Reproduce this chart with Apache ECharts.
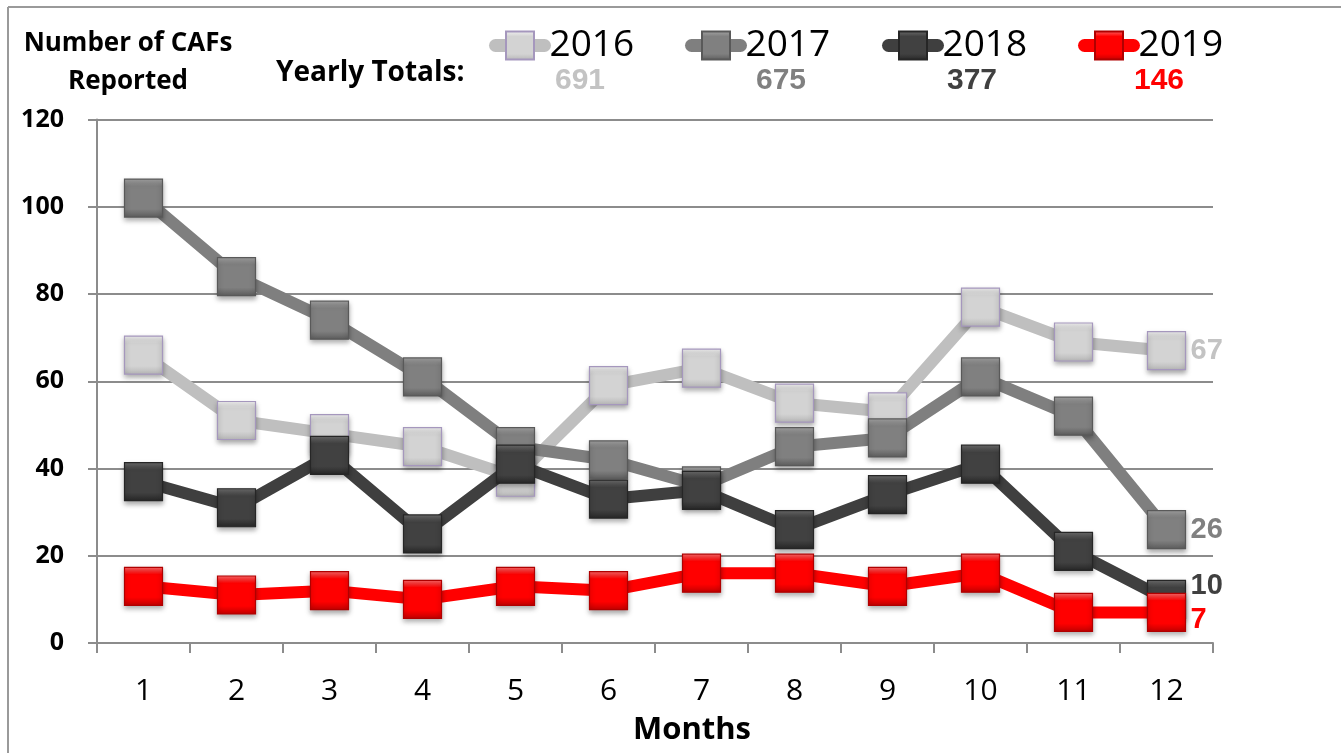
<!DOCTYPE html>
<html>
<head>
<meta charset="utf-8">
<script src="https://cdn.jsdelivr.net/npm/echarts@6/dist/echarts.min.js"></script>
<style>
  html, body { margin: 0; padding: 0; background: #ffffff; }
  #chart { width: 1341px; height: 753px; }
</style>
</head>
<body>
<div id="chart"></div>
<script>
// Monthly CAF counts per year
const months = ['1', '2', '3', '4', '5', '6', '7', '8', '9', '10', '11', '12'];
const years = ['2016', '2017', '2018', '2019'];
const cafs2016 = [66, 51, 48, 45, 38, 59, 63, 55, 53, 77, 69, 67];
const cafs2017 = [102, 84, 74, 61, 45, 42, 36, 45, 47, 61, 52, 26];
const cafs2018 = [37, 31, 43, 25, 41, 33, 35, 26, 34, 41, 21, 10];
const cafs2019 = [13, 11, 12, 10, 13, 12, 16, 16, 13, 16, 7, 7];
const yearlyTotals = ['691', '675', '377', '146'];
const yTicks = { min: 0, max: 120, interval: 20 };

const BODY = '"Open Sans", "Noto Sans", sans-serif';
const NUM = '"Liberation Sans", Arial, sans-serif';

// Per-year styling: line colour, bevelled marker fill, marker edge, label colour
const looks = [
  { line: '#bfbfbf', top: '#f2f2f2', mid: '#d3d3d3', bot: '#b5b5b5', edge: '#a597bd', text: '#c3c3c3', endOffset: [0, 0] },
  { line: '#7f7f7f', top: '#a6a6a6', mid: '#808080', bot: '#5c5c5c', edge: '#595959', text: '#808080', endOffset: [0, 0] },
  { line: '#3f3f3f', top: '#6e6e6e', mid: '#414141', bot: '#262626', edge: '#262626', text: '#404040', endOffset: [0, -13] },
  { line: '#ff0000', top: '#ff6b6b', mid: '#ff0000', bot: '#c00000', edge: '#b00000', text: '#ff0000', endOffset: [0, 8] }
];
const seriesData = [cafs2016, cafs2017, cafs2018, cafs2019];

function bevel(l) {
  return {
    type: 'linear', x: 0, y: 0, x2: 0, y2: 1,
    colorStops: [
      { offset: 0, color: l.top },
      { offset: 0.2, color: l.mid },
      { offset: 0.78, color: l.mid },
      { offset: 1, color: l.bot }
    ]
  };
}

const series = years.map((y, i) => ({
  name: y,
  type: 'line',
  data: seriesData[i],
  symbol: 'rect',
  symbolSize: 38,
  showAllSymbol: true,
  lineStyle: { color: looks[i].line, width: 12, join: 'round' },
  itemStyle: {
    color: bevel(looks[i]),
    borderColor: looks[i].edge,
    borderWidth: 1.2,
    shadowColor: 'rgba(0,0,0,0.35)',
    shadowBlur: 5,
    shadowOffsetY: 3
  },
  emphasis: { disabled: true },
  endLabel: {
    show: true,
    color: looks[i].text,
    fontFamily: NUM,
    fontWeight: 'bold',
    fontSize: 29,
    distance: 24,
    offset: looks[i].endOffset,
    formatter: p => String(p.value)
  },
  z: 2 + i
}));

const legendLefts = [484, 680, 877, 1073];
const legends = years.map((y, i) => ({
  data: [y],
  left: legendLefts[i],
  top: 22,
  itemWidth: 49,
  itemHeight: 35,
  selectedMode: false,
  lineStyle: { width: 13, cap: 'round' },
  textStyle: { fontFamily: BODY, fontSize: 37, color: '#000000', padding: [0, 0, 0, 0] }
}));

const totalsX = [580, 781, 972, 1159];
const graphics = [
  // frame edges
  { type: 'line', shape: { x1: 8, y1: 7, x2: 1341, y2: 7 }, style: { stroke: '#9a9a9a', lineWidth: 2 } },
  { type: 'line', shape: { x1: 8, y1: 7, x2: 8, y2: 753 }, style: { stroke: '#9a9a9a', lineWidth: 2 } },
  {
    type: 'text', x: 128, y: 63,
    style: {
      text: 'Number of CAFs\nReported', x: 0, y: 0, align: 'center', verticalAlign: 'middle',
      font: 'bold 26px ' + BODY, fill: '#000000', lineHeight: 38
    }
  },
  {
    type: 'text', x: 276, y: 73,
    style: { text: 'Yearly Totals:', x: 0, y: 0, align: 'left', verticalAlign: 'middle', font: 'bold 28px ' + BODY, fill: '#000000' }
  }
].concat(yearlyTotals.map((t, i) => ({
  type: 'text', x: totalsX[i], y: 81,
  style: { text: t, x: 0, y: 0, align: 'center', verticalAlign: 'middle', font: 'bold 30px ' + NUM, fill: looks[i].text }
})));

const chart = echarts.init(document.getElementById('chart'), null, { renderer: 'canvas' });
chart.setOption({
  animation: false,
  backgroundColor: '#ffffff',
  grid: { left: 97, right: 128, top: 119.5, bottom: 110 },
  legend: legends,
  xAxis: {
    type: 'category',
    data: months,
    boundaryGap: true,
    name: 'Months',
    nameLocation: 'middle',
    nameGap: 72,
    nameTextStyle: { fontFamily: BODY, fontWeight: 'bold', fontSize: 31, color: '#000000', padding: [0, 0, 0, 74] },
    axisLine: { lineStyle: { color: '#8c8c8c', width: 2 } },
    axisTick: { show: true, length: 10, alignWithLabel: false, lineStyle: { color: '#8c8c8c', width: 2 } },
    axisLabel: { fontFamily: BODY, fontSize: 30, color: '#000000', margin: 33 },
    splitLine: { show: false }
  },
  yAxis: {
    type: 'value',
    min: yTicks.min,
    max: yTicks.max,
    interval: yTicks.interval,
    axisLine: { show: true, lineStyle: { color: '#8c8c8c', width: 2 } },
    axisTick: { show: true, length: 9, lineStyle: { color: '#8c8c8c', width: 2 } },
    axisLabel: { fontFamily: BODY, fontWeight: 'bold', fontSize: 25, color: '#000000', margin: 33 },
    splitLine: { show: true, lineStyle: { color: '#8c8c8c', width: 2 } }
  },
  series: series,
  graphic: graphics
});
</script>
</body>
</html>
